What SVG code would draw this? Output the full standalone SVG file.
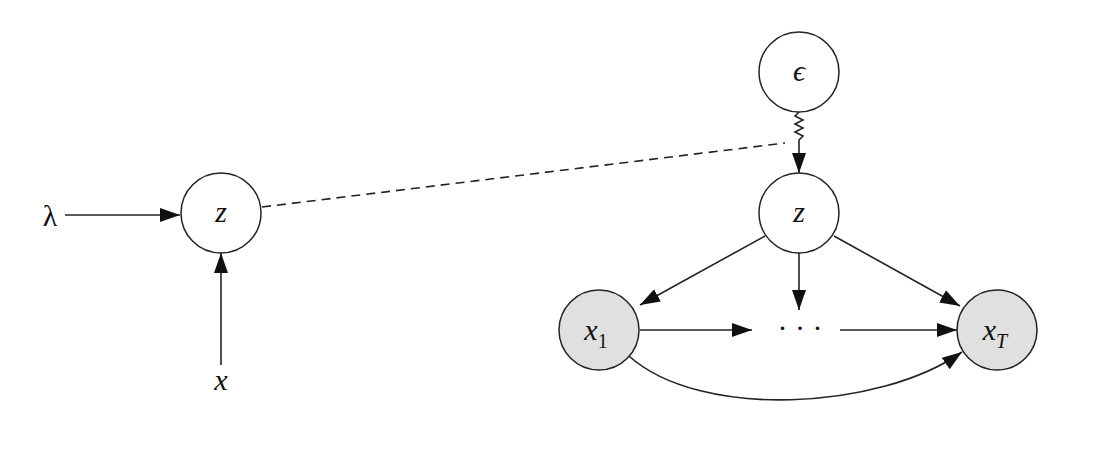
<svg xmlns="http://www.w3.org/2000/svg" width="1093" height="468" viewBox="0 0 1093 468">
<style>
.n{fill:#fff;stroke:#222;stroke-width:1.5}
.g{fill:#e0e0e0;stroke:#222;stroke-width:1.5}
.t{font-family:"Liberation Serif",serif;font-style:italic;font-size:30px;text-anchor:middle;fill:#111}
.e{fill:none;stroke:#222;stroke-width:1.6;marker-end:url(#a)}
</style>
<defs><marker id="a" viewBox="0 0 10 10" refX="10" refY="5" markerWidth="12" markerHeight="12" markerUnits="userSpaceOnUse" orient="auto"><path d="M0,0L10,5L0,10z" fill="#111"/></marker>
<marker id="b" viewBox="0 0 20 14" refX="20" refY="7" markerWidth="20" markerHeight="14" markerUnits="userSpaceOnUse" orient="auto"><path d="M0,0L20,7L0,14z" fill="#111"/></marker></defs>
<g id="connectors" fill="none" stroke="#222" stroke-width="1.6">
<path d="M65,215H180" marker-end="url(#b)"/>
<path d="M221,365V253" marker-end="url(#b)"/>
<path d="M262,207L785,143" stroke-dasharray="9,6"/>
<path d="M799,112l-4,4l8,4l-8,4l8,4l-8,4l8,4l-4,4V173" marker-end="url(#b)"/>
<path d="M765,236L640,305" marker-end="url(#b)"/>
<path d="M799,253V310" marker-end="url(#b)"/>
<path d="M834,236L960,306" marker-end="url(#b)"/>
<path d="M640,330H752" marker-end="url(#b)"/>
<path d="M840,330H957" marker-end="url(#b)"/>
<path d="M629,356C700,420 880,410 962,352" marker-end="url(#b)"/>
</g>
<g id="lambda"><text class="t" x="50" y="226" style="font-style:normal">λ</text></g>
<g id="z1"><circle class="n" cx="221" cy="213" r="40"/><text class="t" x="221" y="222" font-size="26">z</text></g>
<g id="x"><text class="t" x="221" y="390">x</text></g>
<g id="eps"><circle class="n" cx="799" cy="72" r="40"/><text class="t" x="799" y="81" font-size="26">ϵ</text></g>
<g id="z2"><circle class="n" cx="799" cy="213" r="40"/><text class="t" x="799" y="222" font-size="26">z</text></g>
<g id="x1"><circle class="g" cx="599" cy="330" r="40"/><text class="t" x="596" y="340">x<tspan font-size="20" dy="8" font-style="normal">1</tspan></text></g>
<g id="dots"><text class="t" x="800" y="338" style="font-style:normal">· · ·</text></g>
<g id="xT"><circle class="g" cx="997" cy="330" r="40"/><text class="t" x="995" y="340">x<tspan font-size="20" dy="8">T</tspan></text></g>
</svg>
